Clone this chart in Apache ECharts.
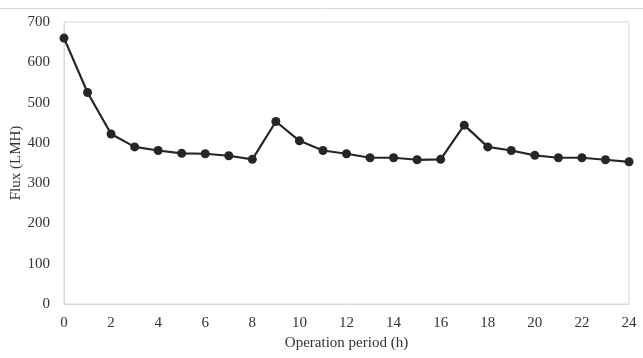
<!DOCTYPE html>
<html>
<head>
<meta charset="utf-8">
<script src="https://cdn.jsdelivr.net/npm/echarts@6/dist/echarts.min.js"></script>
<style>html,body{margin:0;padding:0;background:#fff;}#c{width:643px;height:358px;}</style>
</head>
<body>
<div id="c"></div>
<script>
const hours = [0,1,2,3,4,5,6,7,8,9,10,11,12,13,14,15,16,17,18,19,20,21,22,23,24];
const flux = [660,525,422,390,381,374,373,368,359,453,405,381,373,363,363,358,359,444,390,381,369,363,363,358,353];
const xTicks = {min:0, max:24, interval:2};
const yTicks = {min:0, max:700, interval:100};
const xName = 'Operation period (h)';
const yName = 'Flux (LMH)';

const chart = echarts.init(document.getElementById('c'), null, {renderer:'canvas'});
const font = 'Liberation Serif';
chart.setOption({
  animation:false,
  backgroundColor:'#fff',
  grid:{left:64,right:14,top:22,bottom:54,outerBoundsMode:'none',containLabel:false,show:true,borderColor:'#d9d9d9',borderWidth:1,backgroundColor:'transparent'},
  graphic:[{type:'line',shape:{x1:0,y1:8.5,x2:643,y2:8.5},style:{stroke:'#d9d9d9',lineWidth:1}}],
  xAxis:{type:'value',min:xTicks.min,max:xTicks.max,interval:xTicks.interval,
    name:xName,nameLocation:'middle',nameGap:32,nameMoveOverlap:false,
    nameTextStyle:{fontFamily:font,fontSize:15,color:'#333'},
    axisLine:{show:true,lineStyle:{color:'#d9d9d9'}},axisTick:{show:false},splitLine:{show:false},
    axisLabel:{fontFamily:font,fontSize:15,color:'#333',margin:12}},
  yAxis:{type:'value',min:yTicks.min,max:yTicks.max,interval:yTicks.interval,
    name:yName,nameLocation:'middle',nameGap:40,nameRotate:90,nameMoveOverlap:false,
    nameTextStyle:{fontFamily:font,fontSize:15,color:'#333'},
    axisLine:{show:true,lineStyle:{color:'#d9d9d9'}},axisTick:{show:false},splitLine:{show:false},
    axisLabel:{fontFamily:font,fontSize:15,color:'#333',margin:14}},
  series:[{type:'line',data:hours.map((h,i)=>[h,flux[i]]),
    symbol:'circle',symbolSize:9,
    lineStyle:{color:'#262626',width:2.2},
    itemStyle:{color:'#262626'}}]
});
</script>
</body>
</html>
